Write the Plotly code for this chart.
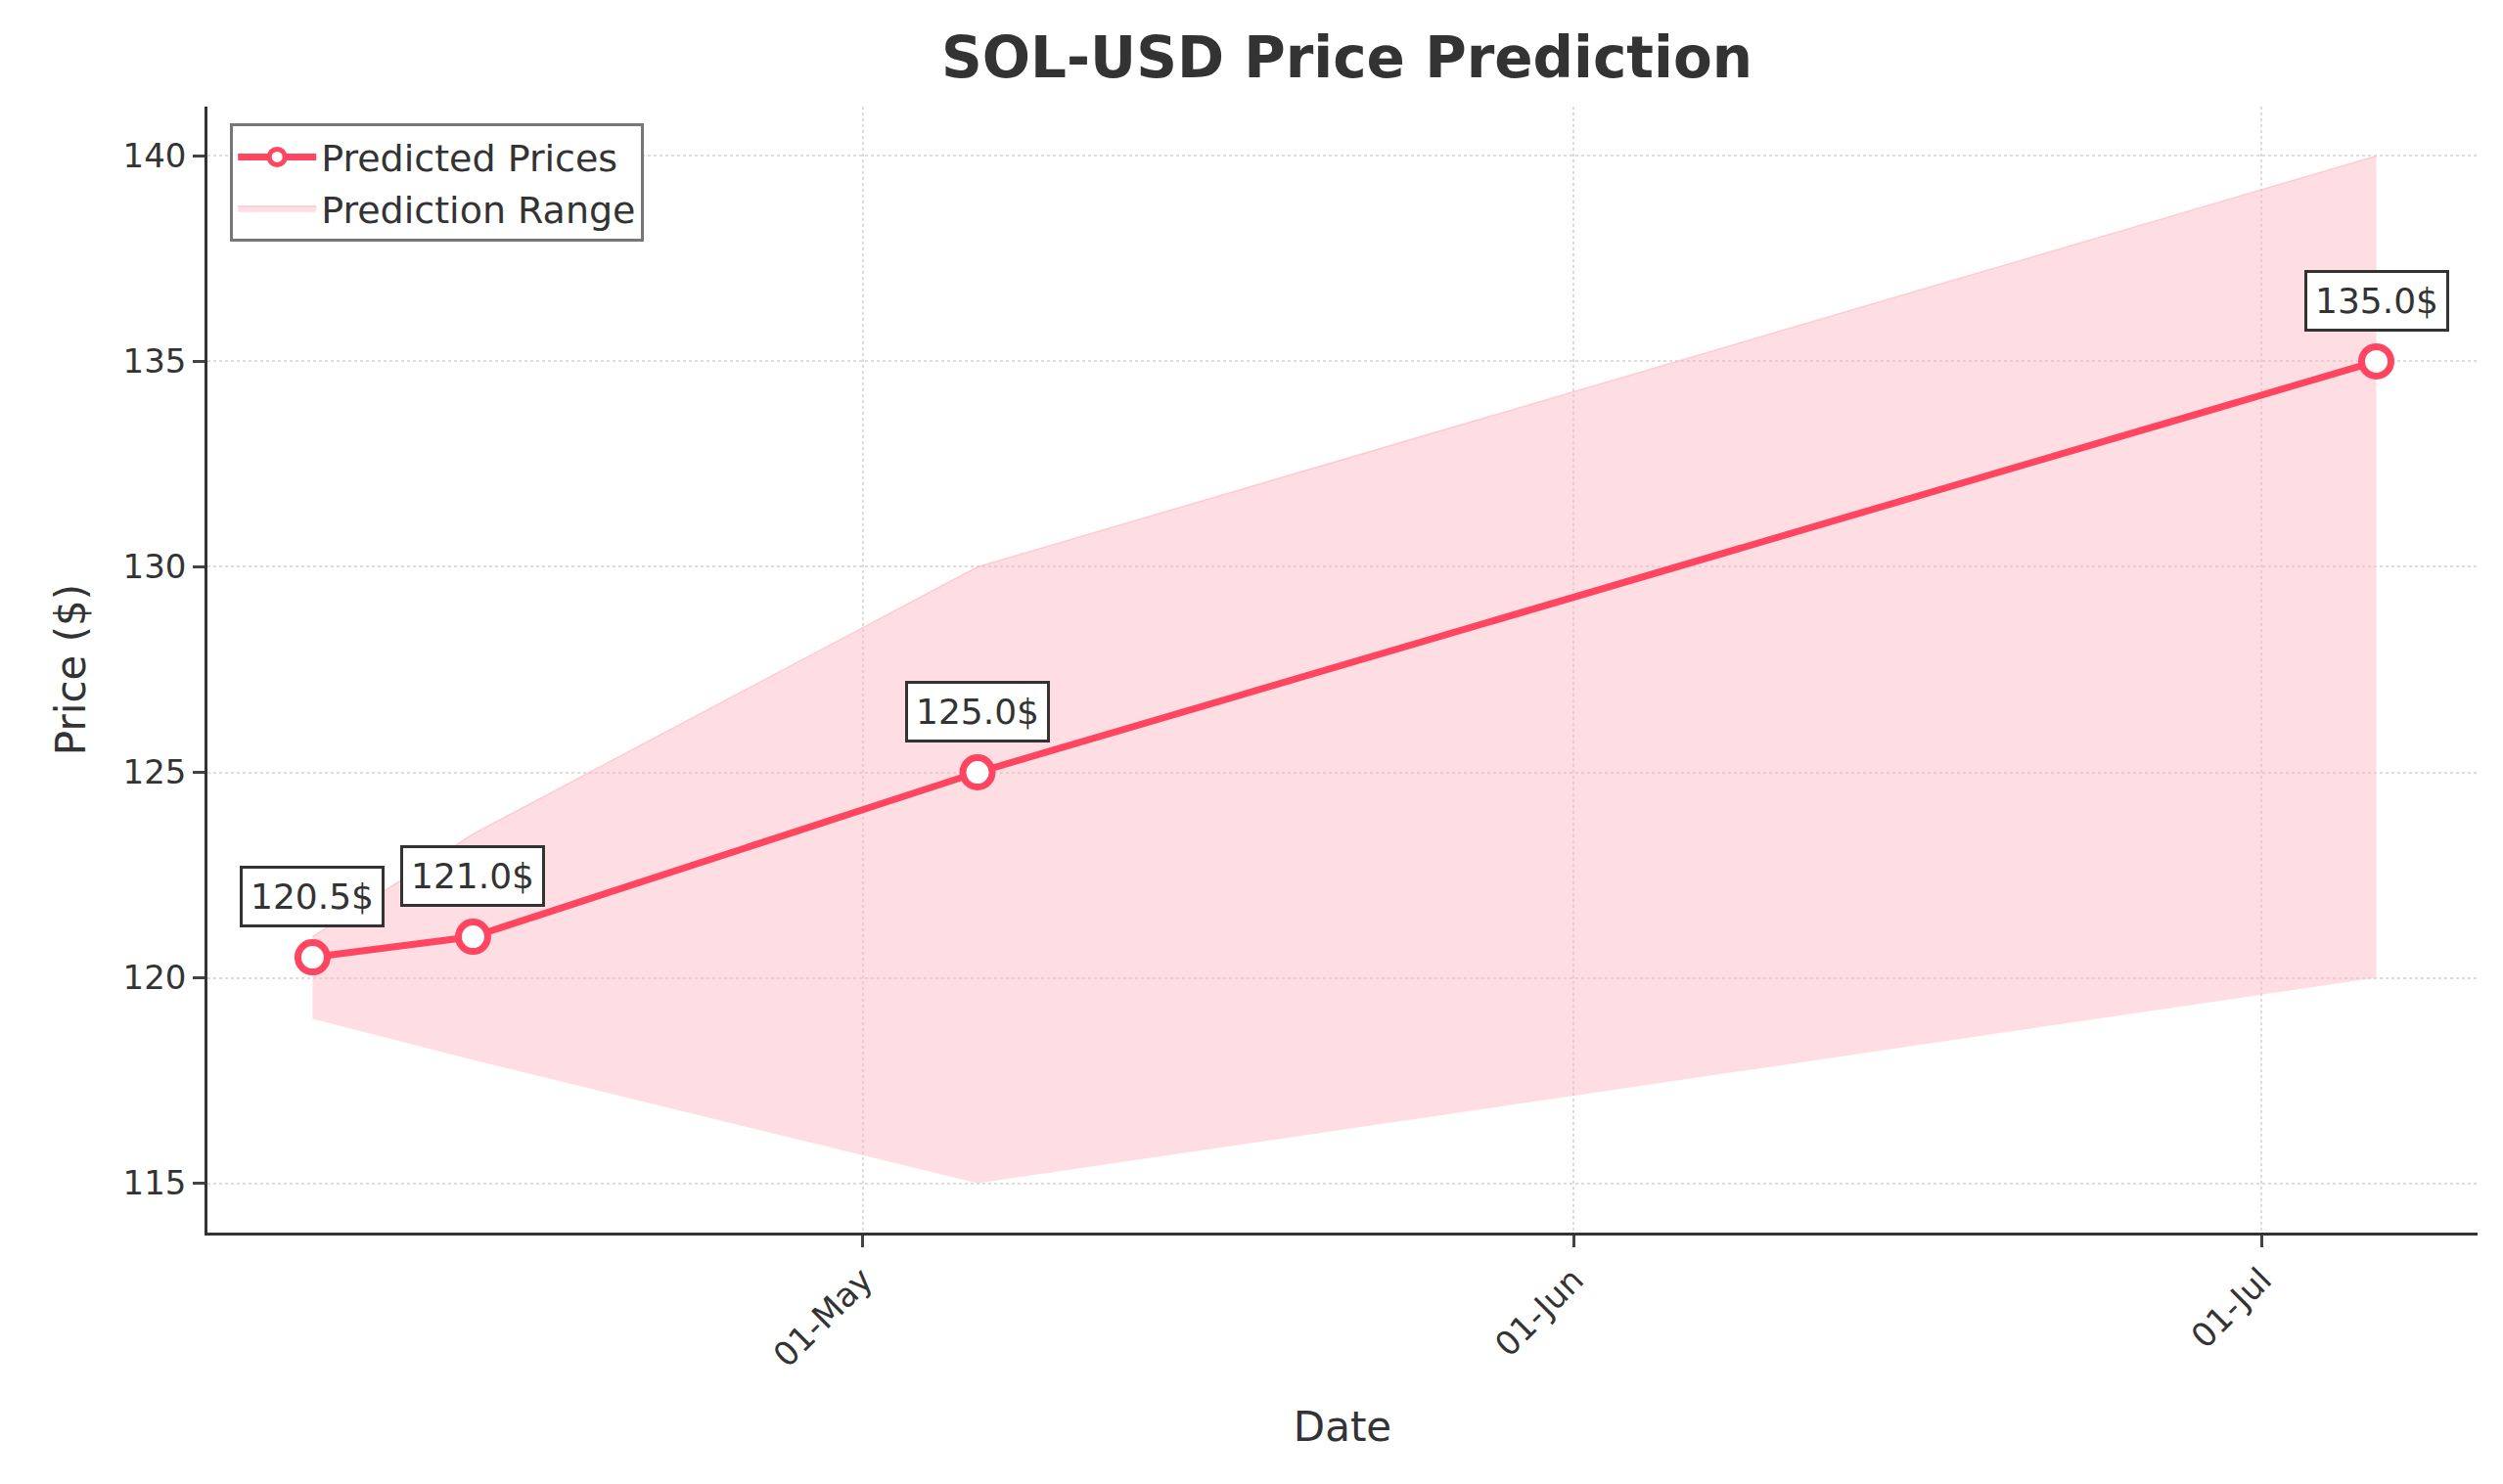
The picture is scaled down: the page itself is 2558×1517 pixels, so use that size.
import plotly.graph_objects as go

dates = ["2024-04-07", "2024-04-14", "2024-05-06", "2024-07-06"]
predicted = [120.5, 121.0, 125.0, 135.0]
lower = [119.0, 118.0, 115.0, 120.0]
upper = [121.0, 123.5, 130.0, 140.0]
tick_vals = ["2024-05-01", "2024-06-01", "2024-07-01"]
tick_text = ["01-May", "01-Jun", "01-Jul"]

red = "#ff4560"
fig = go.Figure()
fig.add_trace(go.Scatter(x=dates, y=lower, mode="lines", line=dict(width=0), showlegend=False, hoverinfo="skip"))
fig.add_trace(go.Scatter(x=dates, y=upper, mode="lines", fill="tonexty",
                         fillcolor="rgba(255,182,193,0.45)", line=dict(width=1.5, color="rgba(255,182,193,0.6)"),
                         name="Prediction Range"))
fig.add_trace(go.Scatter(x=dates, y=predicted, mode="lines+markers", name="Predicted Prices",
                         line=dict(color=red, width=7),
                         marker=dict(size=30, color="white", line=dict(color=red, width=7))))

for d, p in zip(dates, predicted):
    fig.add_annotation(x=d, y=p, text=f"{p}$", showarrow=False, yshift=62,
                       font=dict(size=36, color="#333"), bgcolor="white",
                       bordercolor="#333", borderwidth=3, borderpad=8)

fig.update_layout(
    width=2558, height=1517, paper_bgcolor="white", plot_bgcolor="white",
    margin=dict(l=204, r=34, t=101, b=265),
    font=dict(family="DejaVu Sans", color="#333"),
    title=dict(text="<b>SOL-USD Price Prediction</b>", x=0.535, xanchor="center", y=0.98, yanchor="top",
               font=dict(size=58, color="#333")),
    legend=dict(x=0.01, y=0.985, xanchor="left", yanchor="top", bordercolor="#777", borderwidth=3,
                font=dict(size=38), traceorder="reversed", bgcolor="white", itemwidth=80),
)
fig.update_xaxes(range=["2024-04-02 10:00", "2024-07-10 10:00"], tickvals=tick_vals, ticktext=tick_text,
                 tickangle=-45, tickfont=dict(size=34), showline=True, linecolor="#333", linewidth=2.5,
                 ticks="outside", ticklen=12, tickwidth=2.5, showgrid=True, gridcolor="#ddd",
                 griddash="dot", gridwidth=2, title=dict(text="Date", font=dict(size=42), standoff=40), zeroline=False)
fig.update_yaxes(range=[113.8, 141.2], tickvals=[115, 120, 125, 130, 135, 140], tickfont=dict(size=34),
                 showline=True, linecolor="#333", linewidth=2.5, ticks="outside", ticklen=12, tickwidth=2.5,
                 showgrid=True, gridcolor="#ddd", griddash="dot", gridwidth=2,
                 title=dict(text="Price ($)", font=dict(size=42), standoff=25), zeroline=False)
fig.write_html("out.html")
